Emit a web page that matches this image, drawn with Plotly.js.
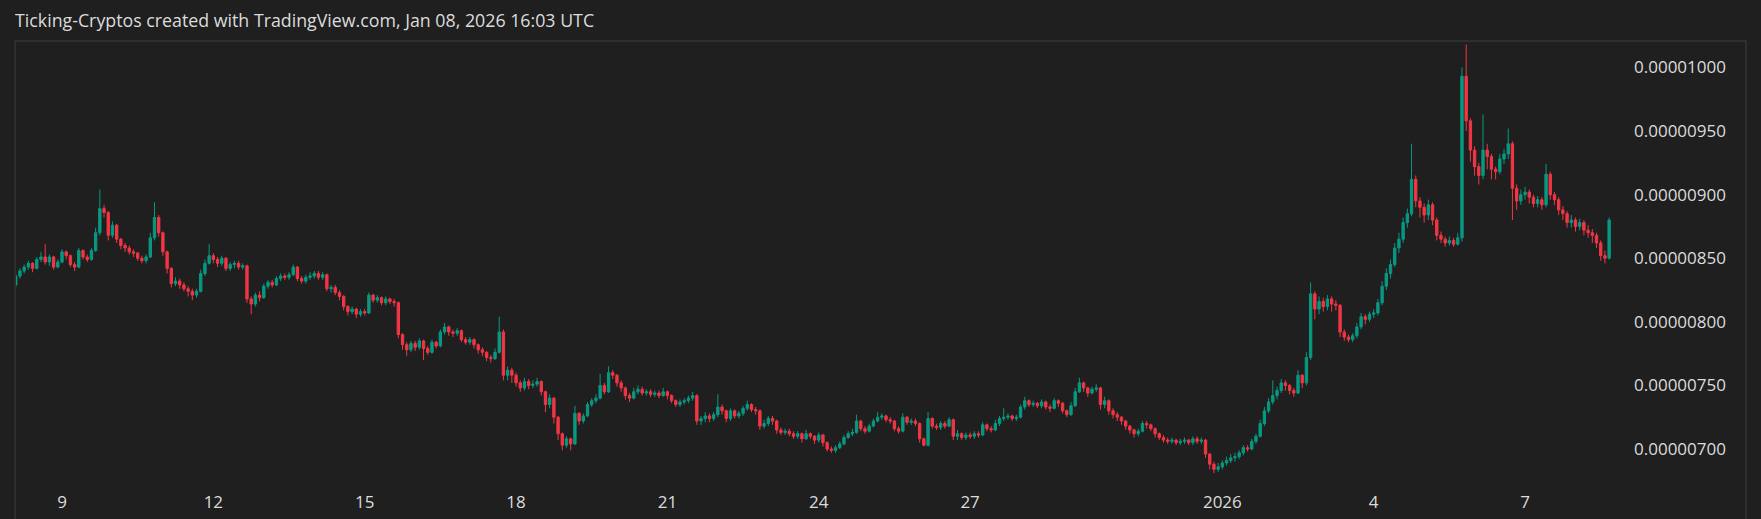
<!DOCTYPE html>
<html><head><meta charset="utf-8">
<script src="https://cdn.plot.ly/plotly-3.0.1.min.js"></script>
<style>html,body{margin:0;padding:0;background:#1f1f1f;overflow:hidden}#chart{width:1761px;height:519px}</style>
</head><body><div id="chart"></div>
<script>
// 2-hour candles, first candle opens 2025-12-08 02:00 UTC. Prices in units of 1e-8.
const START_MS = Date.UTC(2025, 11, 8, 2, 0, 0);
const STEP_MS = 2 * 3600 * 1000;
const PRICE_UNIT = 1e-8;

const openVals = [
829,836,840,843,846,842,849,851,847,851,843,847,
855,852,845,843,856,851,849,856,870,889,886,868,
876,865,860,858,855,854,850,848,851,866,882,870,
855,842,830,832,829,826,824,821,824,838,846,852,
849,846,850,842,845,846,843,844,818,814,821,819,
828,831,829,834,836,835,837,843,834,832,835,836,
838,835,837,826,827,823,820,812,808,810,806,808,
807,821,817,819,815,818,816,815,790,782,778,783,
780,785,779,776,784,781,792,796,792,791,793,786,
784,786,782,778,776,772,771,776,792,758,762,758,
752,748,753,750,751,753,745,735,740,725,712,703,
708,704,728,722,726,735,738,740,750,745,760,758,
752,748,742,740,745,747,744,745,743,744,742,745,
742,738,735,737,738,740,742,722,724,726,724,727,
733,730,724,730,726,728,732,735,731,730,718,720,
724,722,715,713,714,712,710,712,708,712,710,707,
711,705,700,699,701,704,709,712,713,722,716,714,
718,722,725,726,723,722,716,714,725,721,722,720,
708,703,724,718,717,720,718,723,710,712,709,711,
710,712,711,719,716,715,720,724,725,726,724,725,
733,738,735,736,734,737,733,732,738,736,730,727,
734,745,752,748,744,747,748,735,738,730,727,725,
722,718,715,712,714,720,719,716,712,709,707,706,
707,705,706,707,705,708,706,707,696,688,684,686,
689,691,693,694,697,701,700,706,710,720,730,737,
742,746,752,750,746,744,758,752,772,822,810,816,
812,818,814,813,792,788,786,789,796,804,802,806,
807,815,828,838,845,858,865,878,885,912,895,890,
884,892,880,868,865,862,864,861,866,993,958,935,
922,915,935,930,920,918,928,932,940,905,895,900,
902,898,893,896,892,916,900,896,888,885,878,880,
875,878,872,870,868,862,852,850
];

const highVals = [
838,842,845,848,847,851,855,861,853,852,849,857,
856,853,847,858,857,853,858,874,904,892,887,879,
877,866,862,860,857,855,852,853,870,894,884,871,
856,843,835,834,831,828,826,826,841,849,861,854,
851,852,851,847,848,848,846,845,820,823,824,830,
833,833,836,838,838,839,845,844,836,837,839,840,
840,839,838,829,829,825,821,813,812,811,810,810,
823,822,821,820,820,819,818,816,791,784,785,785,
787,786,781,786,785,794,799,797,794,795,794,788,
788,787,783,780,777,774,779,804,794,765,764,760,
754,756,755,754,756,754,746,743,741,726,713,710,
709,734,729,728,737,740,743,759,752,765,762,759,
754,749,744,748,750,749,747,747,746,746,748,746,
743,739,739,740,742,745,743,726,729,728,729,743,
735,731,732,731,730,734,738,736,733,731,723,726,
726,723,717,716,716,714,714,713,715,713,711,713,
712,706,702,703,706,711,714,716,727,723,718,720,
724,729,728,727,725,723,718,728,726,724,724,721,
709,729,725,720,722,722,725,724,715,713,713,713,
714,714,721,720,718,723,726,732,728,727,727,735,
741,739,738,737,739,738,735,740,739,737,731,737,
748,756,753,749,749,751,749,741,739,732,729,726,
723,719,716,716,722,722,720,717,713,711,709,709,
708,708,709,708,710,710,709,708,697,690,689,691,
694,696,697,699,703,703,708,712,723,733,740,754,
749,755,754,751,748,762,759,776,831,824,820,819,
821,820,817,814,794,790,791,799,807,806,808,810,
818,832,842,849,862,870,882,889,940,915,898,893,
896,894,882,871,867,867,866,870,1000,1018,960,938,
925,963,940,932,922,932,936,952,942,908,904,906,
904,900,899,898,924,918,902,898,891,887,884,882,
881,880,876,873,870,864,856,882
];

const lowVals = [
827,834,838,841,839,841,847,845,844,841,842,846,
849,843,840,842,849,847,848,855,868,882,864,866,
862,857,855,853,851,848,846,846,850,864,867,852,
838,827,828,826,824,820,817,819,823,836,845,846,
843,844,840,840,842,841,841,815,806,812,816,818,
826,827,828,832,833,833,836,832,830,830,833,834,
833,833,824,823,821,817,809,805,806,803,804,805,
806,815,815,813,813,814,812,787,778,773,776,777,
778,770,774,775,779,780,790,789,788,789,784,782,
782,779,775,773,769,768,770,775,754,754,752,749,
745,746,747,748,749,742,729,732,720,707,699,701,
699,703,719,720,725,733,736,739,743,744,755,749,
745,739,737,739,743,742,742,741,741,740,741,739,
736,733,733,735,736,738,719,719,721,721,722,725,
727,721,722,724,724,726,730,729,727,715,716,718,
719,712,711,711,710,708,708,705,707,708,704,705,
702,698,697,697,700,703,708,710,712,714,712,713,
717,721,723,721,720,714,712,713,719,719,718,705,
702,702,716,715,715,716,717,707,707,707,707,708,
708,709,710,714,713,714,718,722,723,722,722,724,
731,733,733,732,732,731,729,731,733,728,725,726,
733,744,745,741,743,745,731,732,727,724,722,719,
715,712,709,710,713,716,714,709,707,705,704,704,
703,703,704,703,703,704,704,693,684,681,682,684,
687,689,690,692,695,698,699,704,709,718,728,735,
739,744,746,743,741,743,748,750,770,802,806,808,
809,808,809,788,785,784,784,787,794,798,800,803,
805,813,825,834,843,854,862,874,883,890,882,878,
880,876,864,862,859,860,859,860,863,950,926,915,
908,912,920,912,912,916,924,928,880,888,892,896,
893,890,890,888,890,896,892,884,880,874,874,871,
872,868,866,862,858,848,846,849
];

const closeVals = [
836,840,843,846,842,849,851,847,851,843,847,855,
852,845,843,856,851,849,856,870,889,886,868,876,
865,860,858,855,854,850,848,851,866,882,870,855,
842,830,832,829,826,824,821,824,838,846,852,849,
846,850,842,845,846,843,844,818,814,821,819,828,
831,829,834,836,835,837,843,834,832,835,836,838,
835,837,826,827,823,820,812,808,810,806,808,807,
821,817,819,815,818,816,815,790,782,778,783,780,
785,779,776,784,781,792,796,792,791,793,786,784,
786,782,778,776,772,771,776,792,758,762,758,752,
748,753,750,751,753,745,735,740,725,712,703,708,
704,728,722,726,735,738,740,750,745,760,758,752,
748,742,740,745,747,744,745,743,744,742,745,742,
738,735,737,738,740,742,722,724,726,724,727,733,
730,724,730,726,728,732,735,731,730,718,720,724,
722,715,713,714,712,710,712,708,712,710,707,711,
705,700,699,701,704,709,712,713,722,716,714,718,
722,725,726,723,722,716,714,725,721,722,720,708,
703,724,718,717,720,718,723,710,712,709,711,710,
712,711,719,716,715,720,724,725,726,724,725,733,
738,735,736,734,737,733,732,738,736,730,727,734,
745,752,748,744,747,748,735,738,730,727,725,722,
718,715,712,714,720,719,716,712,709,707,706,707,
705,706,707,705,708,706,707,696,688,684,686,689,
691,693,694,697,701,700,706,710,720,730,737,742,
746,752,750,746,744,758,752,772,822,810,816,812,
818,814,813,792,788,786,789,796,804,802,806,807,
815,828,838,845,858,865,878,885,912,895,890,884,
892,880,868,865,862,864,861,866,993,958,935,922,
915,935,930,920,918,928,932,940,905,895,900,902,
898,893,896,892,916,900,896,888,885,878,880,875,
878,872,870,868,862,852,850,880
];

const tickDates = ['2025-12-09','2025-12-12','2025-12-15','2025-12-18','2025-12-21','2025-12-24','2025-12-27','2026-01-01','2026-01-04','2026-01-07'];
const tickLabels = ['9','12','15','18','21','24','27','2026','4','7'];
const priceTicks = [700,750,800,850,900,950,1000];

function fmtDate(ms){ return new Date(ms).toISOString().slice(0,19).replace('T',' '); }
const times = closeVals.map((_, i) => fmtDate(START_MS + i * STEP_MS));
const scale = a => a.map(v => v * PRICE_UNIT);

const trace = {
  type: 'candlestick',
  x: times,
  open: scale(openVals), high: scale(highVals), low: scale(lowVals), close: scale(closeVals),
  increasing: {line: {color: '#089981', width: 1}, fillcolor: '#089981'},
  decreasing: {line: {color: '#f23645', width: 1}, fillcolor: '#f23645'},
  whiskerwidth: 0,
  hoverinfo: 'skip',
  showlegend: false
};

const L = 16, R = 1627, T = 42, B = 478, W = 1761, H = 519;
const pw = R - L, ph = B - T;
const px = x => (x - L) / pw;
const py = y => (B - y) / ph;
const border = '#2e2e2e';

const layout = {
  width: W, height: H,
  paper_bgcolor: '#1f1f1f', plot_bgcolor: '#1f1f1f',
  margin: {l: L, r: W - R, t: T, b: H - B, pad: 0},
  font: {family: 'Open Sans, sans-serif', size: 17, color: '#d9d9d9'},
  title: {
    text: 'Ticking-Cryptos created with TradingView.com, Jan 08, 2026 16:03 UTC',
    x: 15 / W, xref: 'container', xanchor: 'left',
    y: 1 - 21 / H, yref: 'container', yanchor: 'middle',
    font: {family: 'Open Sans, sans-serif', size: 17.8, color: '#dcdcdc'}
  },
  boxgap: 0.2,
  xaxis: {
    type: 'date',
    range: ['2025-12-08 02:07', '2026-01-09 00:30'],
    rangeslider: {visible: false},
    showgrid: false, zeroline: false, showline: false, ticks: '',
    tickmode: 'array', tickvals: tickDates, ticktext: tickLabels,
    ticklabelstandoff: 12,
    tickfont: {size: 17, color: '#dcdcdc'},
    fixedrange: true
  },
  yaxis: {
    side: 'right',
    range: [677.2 * PRICE_UNIT, 1020 * PRICE_UNIT],
    showgrid: false, zeroline: false, showline: false, ticks: '',
    tickmode: 'array', tickvals: scale(priceTicks), tickformat: '.8f',
    ticklabelstandoff: 6,
    tickfont: {size: 17, color: '#dcdcdc'},
    fixedrange: true
  },
  shapes: [
    {type: 'line', xref: 'paper', yref: 'paper', x0: px(14), x1: px(1747), y0: py(41), y1: py(41), line: {color: border, width: 2}},
    {type: 'line', xref: 'paper', yref: 'paper', x0: px(15), x1: px(15), y0: py(40), y1: py(530), line: {color: border, width: 2}},
    {type: 'line', xref: 'paper', yref: 'paper', x0: px(1746), x1: px(1746), y0: py(40), y1: py(530), line: {color: border, width: 2}}
  ]
};

Plotly.newPlot('chart', [trace], layout, {displayModeBar: false, staticPlot: true});
</script>
</body></html>
